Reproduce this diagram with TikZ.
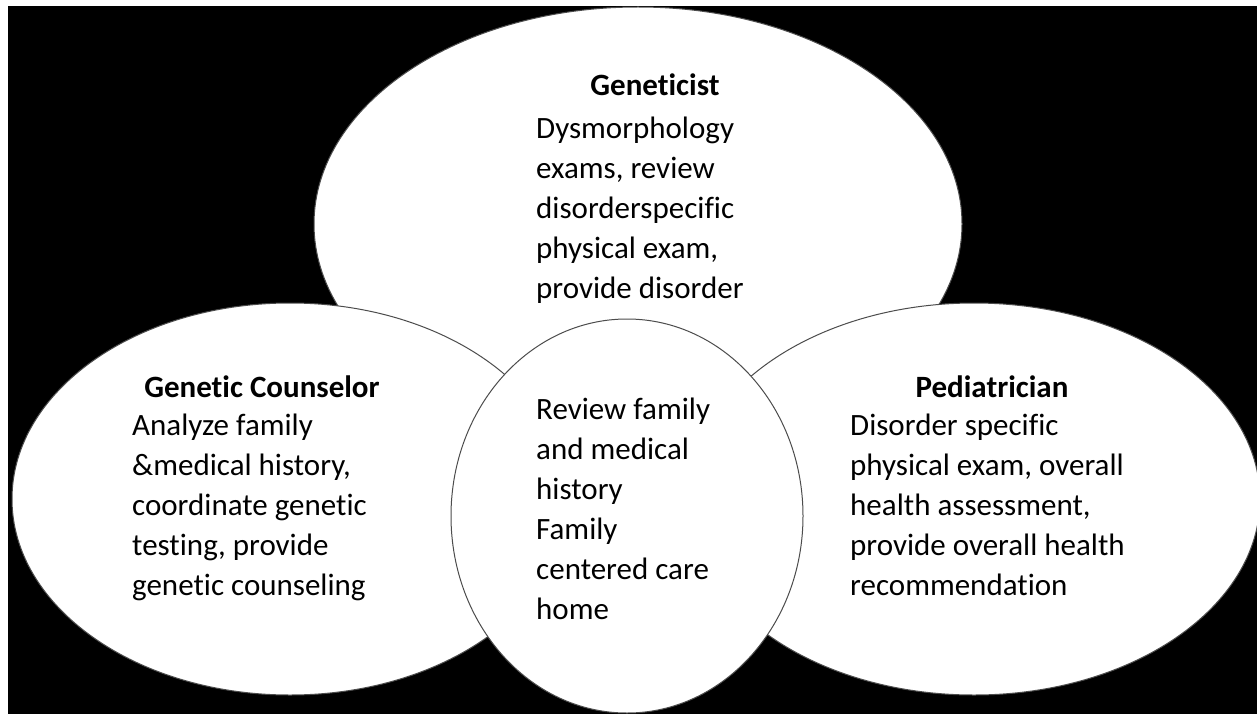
\documentclass[tikz,border=0pt]{standalone}
\usepackage{fontspec}
\setmainfont{Carlito}[Ligatures=NoCommon]
\usetikzlibrary{shapes.geometric}
\begin{document}
\begin{tikzpicture}[x=1pt,y=-1pt,
  blob/.style={ellipse, draw=black!70, line width=1pt, fill=white, inner sep=0pt},
  head/.style={font=\fontsize{31}{40}\selectfont\bfseries, anchor=base, inner sep=0pt},
  body/.style={font=\fontsize{31}{40}\selectfont, align=left, anchor=base west, inner sep=0pt}]
\useasboundingbox (0,0) rectangle (1257,714);
\fill[white] (0,0) rectangle (1257,714);
\fill[black] (8,6) rectangle (1257,714);
% ellipses
\node[blob, minimum width=648pt, minimum height=434pt] (gen) at (638,224) {};
\node[blob, minimum width=556pt, minimum height=392pt] (cou) at (290,499) {};
\node[blob, minimum width=572pt, minimum height=392pt] (ped) at (974,499) {};
\node[blob, minimum width=352pt, minimum height=394pt] (mid) at (627,516) {};
% texts (anchor = baseline of the last line)
\node[head] (genh) at (655,96) {Geneticist};
\node[body] (genb) at (536,298) {Dysmorphology\\exams, review\\disorderspecific\\physical exam,\\provide disorder};
\node[head] (couh) at (262,397) {Genetic Counselor};
\node[body] (coub) at (132,595) {Analyze family\\\&medical history,\\coordinate genetic\\testing, provide\\genetic counseling};
\node[head] (pedh) at (992,397) {Pediatrician};
\node[body] (pedb) at (850,595) {Disorder specific\\physical exam, overall\\health assessment,\\provide overall health\\recommendation};
\node[body] (midb) at (536,619) {Review family\\and medical\\history\\Family\\centered care\\home};
\end{tikzpicture}
\end{document}
